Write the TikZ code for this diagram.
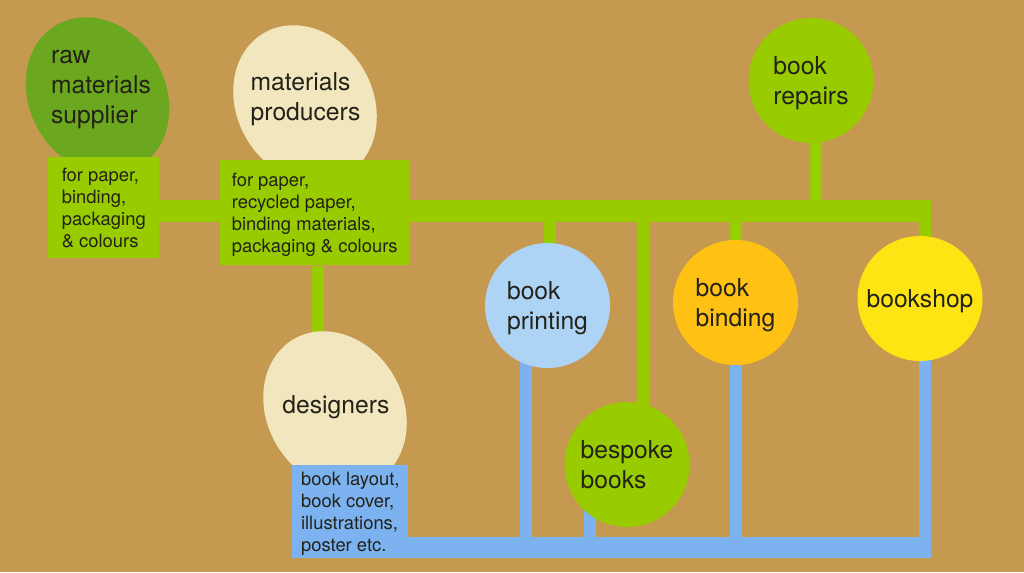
\documentclass[tikz,border=0pt]{standalone}
\usepackage{fontspec}
\setmainfont{TeX Gyre Heros}
\usetikzlibrary{shapes.geometric}
\definecolor{paper}{RGB}{197,153,79}
\definecolor{leaf}{RGB}{107,168,31}
\definecolor{lime}{RGB}{153,204,0}
\definecolor{cream}{RGB}{242,230,191}
\definecolor{sky}{RGB}{174,212,245}
\definecolor{pipe}{RGB}{125,178,240}
\definecolor{amber}{RGB}{255,193,20}
\definecolor{sun}{RGB}{255,228,20}
\definecolor{ink}{RGB}{34,34,24}
\newcommand{\chartbig}{\fontsize{18.5}{22.5}\selectfont}
\newcommand{\chartsmall}{\fontsize{13.8}{16.3}\selectfont}
\pgfdeclarelayer{paperlayer}
\pgfdeclarelayer{pipes}
\pgfsetlayers{paperlayer,pipes,main}
\tikzset{%
  flow/.style = {
    x=0.75pt, y=-0.75pt,
    every node/.style = {text=ink, inner sep=0pt, text depth=0pt}
  },
  blob/.style = {ellipse, minimum width=102pt, minimum height=123pt, rotate=30},
  blobtext/.style = {align=left, font=\chartbig},
  disc/.style = {circle, minimum size=93.75pt, align=left, font=\chartbig},
  infobox/.style = {rectangle, anchor=north west, align=left, font=\chartsmall},
  trunk/.style = {line width=16pt},
  stem/.style = {line width=9pt}
}
\begin{document}
\begin{tikzpicture}[flow]
\useasboundingbox (0,0) rectangle (1024,572);
\begin{pgfonlayer}{paperlayer}
\fill[paper] (0,0) rectangle (1024,572);
\end{pgfonlayer}
\node[blob, fill=leaf] (rawblob) at (97.5,96) {};
\node[blobtext] (rawtext) at (101,87) {raw\\materials\\supplier};
\node[blob, fill=cream] (matblob) at (305,104) {};
\node[blobtext] (mattext) at (305.5,97) {materials\\producers};
\node[blob, fill=cream] (dsg) at (335,410) {};
\node[blobtext] (dsgtext) at (336,404) {designers};
\node[infobox, fill=lime, minimum width=83.25pt, minimum height=75.75pt] (sup) at (48,157)
  {for paper,\\binding,\\packaging\\\& colours};
\node[infobox, fill=lime, minimum width=141.75pt, minimum height=78.75pt] (mat) at (220,160)
  {for paper,\\recycled paper,\\binding materials,\\packaging \& colours};
\node[infobox, fill=pipe, minimum width=87pt, minimum height=69.75pt] (dbox) at (292,465)
  {book layout,\\book cover,\\illustrations,\\poster etc.};
\node[disc, fill=lime] (repairs) at (811,80.5) {book\\repairs};
\node[disc, fill=sky] (print) at (547.5,305.5) {book\\printing};
\node[disc, fill=amber] (binding) at (735.5,302.5) {book\\binding};
\node[disc, fill=sun] (shop) at (920,298.5) {bookshop};
\node[disc, fill=lime] (bespoke) at (627,464.5) {bespoke\\books};
\begin{pgfonlayer}{pipes}
\coordinate (gend) at (931,211);
\coordinate (bend) at (931,547.5);
\draw[trunk, lime] (sup.center |- gend) -- (gend);
\draw[stem, lime] (repairs.275 |- repairs.center) -- (repairs.275 |- gend);
\draw[stem, lime] (print.88 |- print.center) -- (print.88 |- gend);
\draw[stem, lime] (bespoke.75 |- bespoke.center) -- (bespoke.75 |- gend);
\draw[stem, lime] (binding.center) -- (binding.center |- gend);
\draw[stem, lime] (shop.85 |- shop.center) -- (shop.85 |- gend);
\draw[stem, lime] ([xshift=2.6pt]mat.south) -- ([xshift=2.6pt]mat.south |- dsg.center);
\draw[trunk, pipe] (dbox.center |- bend) -- (bend);
\draw[stem, pipe] (print.250 |- print.center) -- (print.250 |- bend);
\draw[stem, pipe] (bespoke.234 |- bespoke.center) -- (bespoke.234 |- bend);
\draw[stem, pipe] (binding.center) -- (binding.center |- bend);
\draw[stem, pipe] (shop.275 |- shop.center) -- (shop.275 |- bend);
\end{pgfonlayer}
\end{tikzpicture}
\end{document}
